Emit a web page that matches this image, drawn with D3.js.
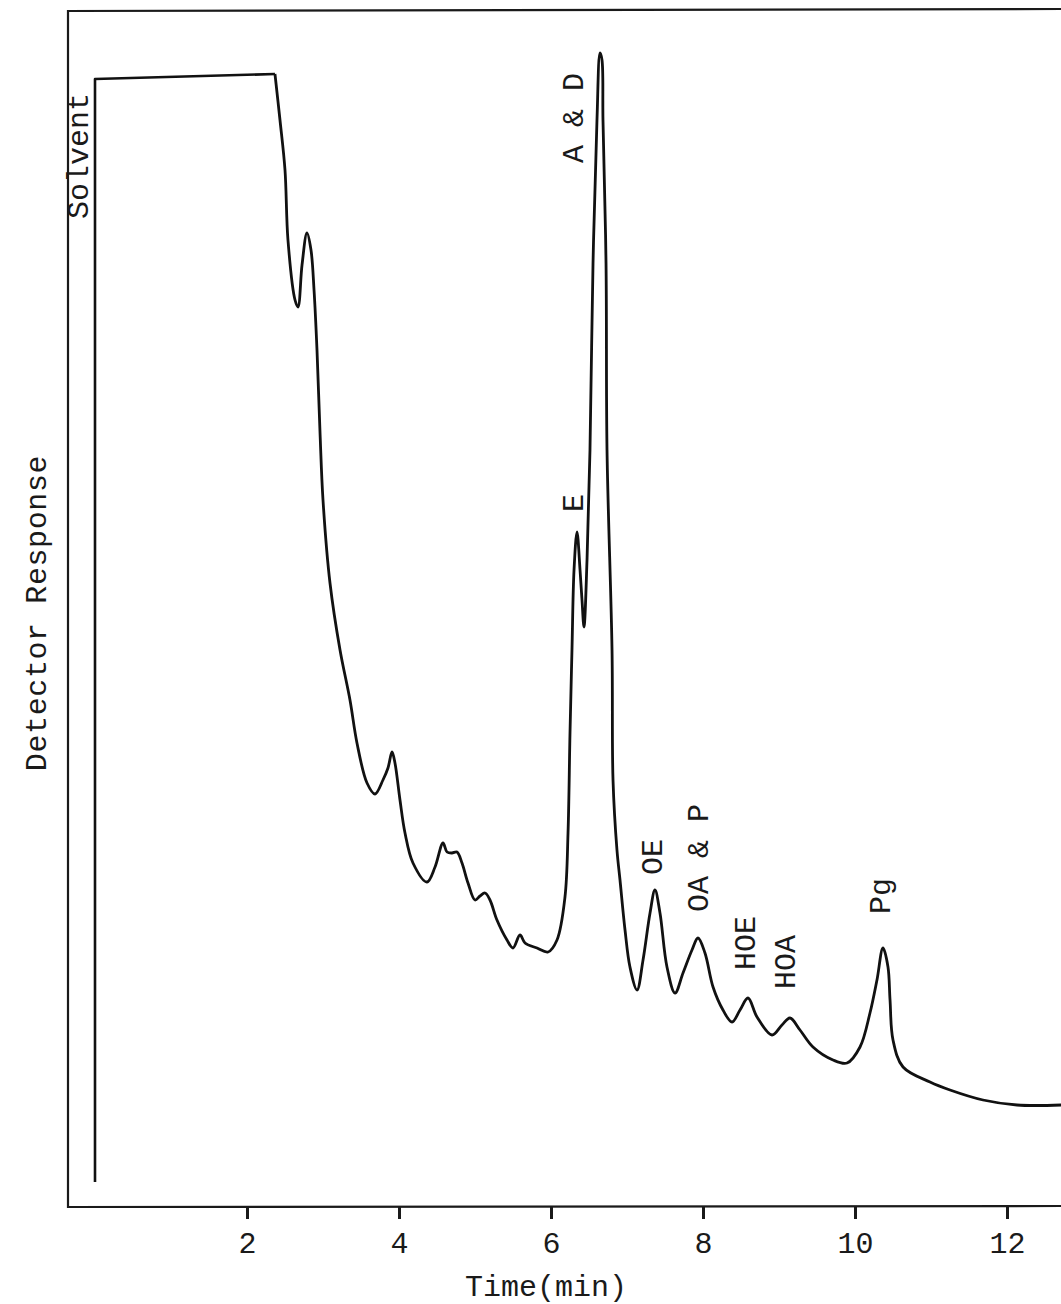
<!DOCTYPE html>
<html>
<head>
<meta charset="utf-8">
<script src="https://cdn.jsdelivr.net/npm/d3@7"></script>
<style>
  body { margin: 0; background: #fff; }
  text { font-family: "Liberation Mono", "DejaVu Sans Mono", monospace; fill: #1a1a1a; }
</style>
</head>
<body>
<div id="root"></div>
<script>
const width = 1061,
      height = 1304

// solvent front: pen jumps off-scale at injection
const solventTime = [0, 0, 2.368]
const solventResp = [2.5, 112.8, 113.3]

// main trace (time in min, detector response in arbitrary units)
const traceTime = [2.368, 2.434, 2.5, 2.539, 2.632, 2.671, 2.724, 2.789, 2.842, 2.882,
  2.921, 2.961, 3.0, 3.092, 3.224, 3.355, 3.447, 3.579, 3.684, 3.789,
  3.855, 3.908, 3.947, 4.013, 4.079, 4.184, 4.368, 4.474, 4.579, 4.632,
  4.697, 4.763, 4.829, 4.908, 5.0, 5.066, 5.132, 5.197, 5.289, 5.421,
  5.5, 5.592, 5.658, 5.816, 5.961, 6.079, 6.184, 6.224, 6.25, 6.276,
  6.303, 6.342, 6.382, 6.408, 6.434, 6.474, 6.513, 6.553, 6.605, 6.645,
  6.671, 6.684, 6.724, 6.737, 6.803, 6.816, 6.868, 6.908, 6.974, 7.039,
  7.132, 7.211, 7.303, 7.368, 7.434, 7.526, 7.632, 7.737, 7.855, 7.934,
  8.026, 8.132, 8.263, 8.382, 8.487, 8.592, 8.711, 8.908, 9.039, 9.145,
  9.276, 9.447, 9.711, 9.895, 10.066, 10.197, 10.289, 10.368, 10.434, 10.461,
  10.5, 10.632, 10.987, 11.25, 11.684, 12.132, 12.711]
const traceResp = [113.3, 108.7, 103.7, 96.7, 90.7, 90.0, 94.2, 97.4, 95.7, 91.7,
  85.7, 77.4, 70.7, 62.4, 55.7, 50.7, 46.4, 42.4, 41.3, 42.7,
  43.9, 45.5, 44.4, 40.7, 37.4, 34.4, 32.5, 34.0, 36.4, 35.5,
  35.4, 35.5, 34.4, 32.4, 30.7, 31.1, 31.4, 30.7, 28.7, 26.7,
  25.9, 27.2, 26.4, 25.9, 25.5, 26.7, 31.0, 37.4, 47.4, 55.7,
  63.7, 67.5, 63.7, 60.7, 58.0, 64.7, 75.7, 94.4, 108.7, 115.4,
  114.7, 108.7, 94.4, 75.7, 55.7, 42.7, 35.7, 32.7, 27.7, 24.0,
  21.7, 24.7, 29.4, 31.7, 29.4, 24.0, 21.4, 23.4, 25.7, 26.9,
  25.4, 22.0, 19.7, 18.5, 19.7, 20.9, 19.0, 17.2, 18.2, 18.9,
  17.7, 16.0, 14.7, 14.4, 16.0, 19.4, 22.7, 25.9, 24.0, 20.7,
  16.7, 14.0, 12.5, 11.7, 10.7, 10.2, 10.2]

// peak labels, placed at (time, response) of the label's baseline centre
const peakNames = ['Solvent', 'A & D', 'E', 'OE', 'OA & P', 'HOE', 'HOA', 'Pg']
const peakTime  = [-0.092, 6.421, 6.421, 7.461, 8.066, 8.684, 9.211, 10.461]
const peakResp  = [105.1, 108.9, 70.4, 35.0, 34.9, 26.4, 24.5, 31.1]

const tickVals = [2, 4, 6, 8, 10, 12]

const frame = { left: 68, top: 11, bottom: 1207, right: 1061 }

const svg = d3.select('#root')
  .append('svg')
  .attr('width', width)
  .attr('height', height)

const x = d3.scaleLinear().domain([0, 12]).range([95, 1007])
const y = d3.scaleLinear().domain([0, 120]).range([frame.bottom, frame.bottom - 1200])

// frame (open on the right, as on the chart paper)
svg.append('path')
  .attr('d', `M${frame.right},${frame.top - 2}L${frame.left},${frame.top}L${frame.left},${frame.bottom}L${frame.right},${frame.bottom - 1}`)
  .attr('fill', 'none')
  .attr('stroke', '#1a1a1a')
  .attr('stroke-width', 2.2)

const xAxis = d3.axisBottom(x)
  .tickValues(tickVals)
  .tickSize(12)
  .tickPadding(13)
  .tickFormat(d3.format('d'))

const gx = svg.append('g')
  .attr('transform', `translate(0,${frame.bottom})`)
  .call(xAxis)
gx.select('.domain').remove()
gx.selectAll('line').attr('stroke', '#1a1a1a').attr('stroke-width', 3)
gx.selectAll('text')
  .style('font-size', '30px')
  .attr('fill', '#1a1a1a')

svg.append('text')
  .attr('x', 546)
  .attr('y', 1296)
  .attr('text-anchor', 'middle')
  .style('font-size', '30px')
  .text('Time(min)')

svg.append('text')
  .attr('transform', `translate(46,613) rotate(-90)`)
  .attr('text-anchor', 'middle')
  .style('font-size', '30px')
  .style('letter-spacing', '0.6px')
  .text('Detector Response')

const solventLine = d3.line()
  .x((d, i) => x(solventTime[i]))
  .y(d => y(d))

svg.append('path')
  .datum(solventResp)
  .attr('d', solventLine)
  .attr('fill', 'none')
  .attr('stroke', '#111')
  .attr('stroke-width', 2.6)
  .attr('stroke-linejoin', 'round')

const traceLine = d3.line()
  .x((d, i) => x(traceTime[i]))
  .y(d => y(d))
  .curve(d3.curveCatmullRom.alpha(0.5))

svg.append('path')
  .datum(traceResp)
  .attr('d', traceLine)
  .attr('fill', 'none')
  .attr('stroke', '#111')
  .attr('stroke-width', 2.8)
  .attr('stroke-linejoin', 'round')

svg.append('g')
  .selectAll('text')
  .data(peakNames)
  .enter().append('text')
  .attr('transform', (d, i) => `translate(${x(peakTime[i])},${y(peakResp[i])}) rotate(-90)`)
  .attr('text-anchor', 'middle')
  .style('font-size', '30px')
  .text(d => d)
</script>
</body>
</html>
